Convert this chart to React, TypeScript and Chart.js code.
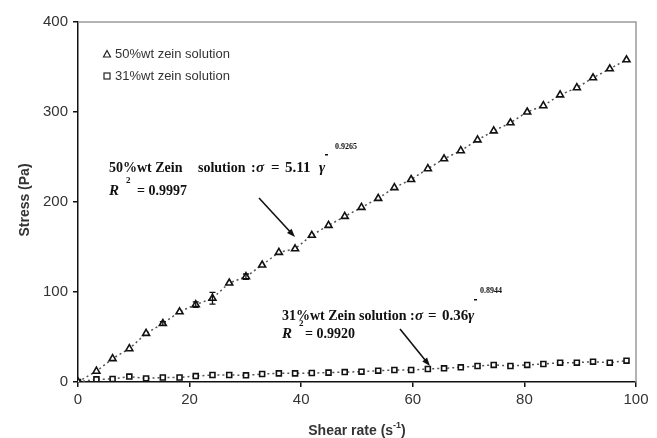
import React, { useEffect, useRef } from "react";
import { Chart, registerables } from "chart.js";

Chart.register(...registerables);

const shearRate = [0, 3.3, 6.2, 9.2, 12.2, 15.2, 18.2, 21.1, 24.1, 27.1, 30.1, 33.0, 36.0, 38.9, 41.9, 44.9, 47.8, 50.8, 53.8, 56.7, 59.7, 62.7, 65.6, 68.6, 71.6, 74.5, 77.5, 80.5, 83.4, 86.4, 89.4, 92.3, 95.3, 98.3];
const stress50 = [0, 12, 26, 37, 54, 65, 78, 86, 93, 110, 117, 130, 144, 148, 163, 174, 184, 194, 204, 216, 225, 237, 248, 257, 269, 279, 288, 300, 307, 319, 327, 338, 348, 358];
const error50 = [0, 0, 0, 0, 0, 2, 0, 3, 6.5, 0, 3, 0, 0, 0, 0, 0, 0, 0, 0, 0, 0, 0, 0, 0, 0, 0, 0, 0, 0, 0, 0, 0, 0, 0];
const stress31 = [0, 3, 3.3, 6, 4, 5, 5, 6.6, 7.8, 7.8, 7.4, 8.9, 9.6, 9.6, 10, 10.4, 11, 11.5, 12.6, 13.3, 13.3, 14.4, 15.2, 16.3, 17.8, 19, 17.8, 19, 20, 21.5, 21.5, 22.6, 21.5, 23.7];

const xTicksStep = 20;
const yTicksStep = 100;
const legendLabels = ["50%wt zein solution", "31%wt zein solution"];

const SANS = '"Liberation Sans", Arial, sans-serif';
const SERIF = '"Liberation Serif", "Times New Roman", serif';

function drawArrow(ctx: CanvasRenderingContext2D, x1: number, y1: number, x2: number, y2: number) {
  const ang = Math.atan2(y2 - y1, x2 - x1);
  const head = 9;
  ctx.save();
  ctx.strokeStyle = "#111";
  ctx.fillStyle = "#111";
  ctx.lineWidth = 1.6;
  ctx.beginPath();
  ctx.moveTo(x1, y1);
  ctx.lineTo(x2 - Math.cos(ang) * head * 0.8, y2 - Math.sin(ang) * head * 0.8);
  ctx.stroke();
  ctx.beginPath();
  ctx.moveTo(x2, y2);
  ctx.lineTo(x2 - head * Math.cos(ang - 0.35), y2 - head * Math.sin(ang - 0.35));
  ctx.lineTo(x2 - head * Math.cos(ang + 0.35), y2 - head * Math.sin(ang + 0.35));
  ctx.closePath();
  ctx.fill();
  ctx.restore();
}

const overlay = {
  id: "overlay",
  afterDatasetsDraw(chart: any) {
    const ctx: CanvasRenderingContext2D = chart.ctx;
    const xs = chart.scales.x;
    const ys = chart.scales.y;
    ctx.save();
    ctx.strokeStyle = "#111";
    ctx.lineWidth = 1.3;
    error50.forEach((e, i) => {
      if (!e) return;
      const px = xs.getPixelForValue(shearRate[i]);
      const top = ys.getPixelForValue(stress50[i] + e);
      const bot = ys.getPixelForValue(stress50[i] - e);
      ctx.beginPath();
      ctx.moveTo(px, top);
      ctx.lineTo(px, bot);
      ctx.moveTo(px - 3, top);
      ctx.lineTo(px + 3, top);
      ctx.moveTo(px - 3, bot);
      ctx.lineTo(px + 3, bot);
      ctx.stroke();
    });
    ctx.restore();
  },
  afterDraw(chart: any) {
    const ctx: CanvasRenderingContext2D = chart.ctx;
    const a = chart.chartArea;
    ctx.save();
    // frame top/right
    ctx.strokeStyle = "#9a9a9a";
    ctx.lineWidth = 1.5;
    ctx.beginPath();
    ctx.moveTo(a.left, a.top);
    ctx.lineTo(a.right, a.top);
    ctx.lineTo(a.right, a.bottom);
    ctx.stroke();

    // legend
    ctx.fillStyle = "#333";
    ctx.font = `13px ${SANS}`;
    ctx.textBaseline = "middle";
    ctx.fillText(legendLabels[0], 115, 54);
    ctx.fillText(legendLabels[1], 115, 76);
    ctx.strokeStyle = "#222";
    ctx.lineWidth = 1.2;
    ctx.fillStyle = "#fff";
    ctx.beginPath();
    ctx.moveTo(107, 50.5);
    ctx.lineTo(110.5, 57);
    ctx.lineTo(103.5, 57);
    ctx.closePath();
    ctx.fill();
    ctx.stroke();
    ctx.fillRect(104, 73, 6, 6);
    ctx.strokeRect(104, 73, 6, 6);

    // axis titles
    ctx.fillStyle = "#333";
    ctx.font = `bold 14px ${SANS}`;
    ctx.textAlign = "center";
    ctx.textBaseline = "middle";
    ctx.save();
    ctx.translate(25, 200);
    ctx.rotate(-Math.PI / 2);
    ctx.fillText("Stress (Pa)", 0, 0);
    ctx.restore();
    ctx.textAlign = "left";
    ctx.textBaseline = "alphabetic";
    const t1 = "Shear rate (s";
    const w1 = ctx.measureText(t1).width;
    ctx.font = `bold 9px ${SANS}`;
    const w2 = ctx.measureText("-1").width;
    ctx.font = `bold 14px ${SANS}`;
    const w3 = ctx.measureText(")").width;
    const total = w1 + w2 + w3;
    let sx = (a.left + a.right) / 2 - total / 2;
    const by = 435;
    ctx.fillText(t1, sx, by);
    ctx.font = `bold 9px ${SANS}`;
    ctx.fillText("-1", sx + w1, by - 7);
    ctx.font = `bold 14px ${SANS}`;
    ctx.fillText(")", sx + w1 + w2, by);

    // annotation 1
    ctx.fillStyle = "#111";
    const bold = `bold 14px ${SERIF}`;
    const boldIt = `italic bold 15px ${SERIF}`;
    ctx.font = bold;
    ctx.fillText("50%wt Zein", 109, 172);
    ctx.fillText("solution", 198, 172);
    ctx.fillText(":", 251, 172);
    ctx.font = boldIt;
    ctx.fillText("\u03c3", 256, 172);
    ctx.font = `bold 15px ${SERIF}`;
    ctx.fillText("=", 271, 172);
    ctx.fillText("5.11", 285, 172);
    ctx.font = boldIt;
    ctx.fillText("\u03b3", 319, 172);
    ctx.fillRect(325, 154, 3, 1.5);
    ctx.font = `bold 8px ${SERIF}`;
    ctx.fillText("0.9265", 335, 149);
    ctx.font = boldIt;
    ctx.fillText("R", 109, 195);
    ctx.font = `bold 9px ${SERIF}`;
    ctx.fillText("2", 126, 183);
    ctx.font = bold;
    ctx.fillText("= 0.9997", 137, 195);
    drawArrow(ctx, 259, 198, 295, 237);

    // annotation 2
    ctx.font = bold;
    ctx.fillText("31%wt Zein solution", 282, 320);
    ctx.fillText(":", 410, 320);
    ctx.font = boldIt;
    ctx.fillText("\u03c3", 415, 320);
    ctx.font = `bold 15px ${SERIF}`;
    ctx.fillText("=", 428, 320);
    ctx.fillText("0.36", 442, 320);
    ctx.font = boldIt;
    ctx.fillText("\u03b3", 468, 320);
    ctx.fillRect(474, 299, 3, 1.5);
    ctx.font = `bold 8px ${SERIF}`;
    ctx.fillText("0.8944", 480, 293);
    ctx.font = boldIt;
    ctx.fillText("R", 282, 338);
    ctx.font = `bold 9px ${SERIF}`;
    ctx.fillText("2", 299, 326);
    ctx.font = bold;
    ctx.fillText("= 0.9920", 305, 338);
    drawArrow(ctx, 400, 329, 430, 366);

    ctx.restore();
  },
};

export default function App() {
  const ref = useRef<HTMLCanvasElement | null>(null);
  useEffect(() => {
    document.body.style.margin = "0";
    const canvas = ref.current;
    if (!canvas) return;
    const tickFont = { family: SANS, size: 15 };
    const chart = new Chart(canvas, {
      type: "scatter",
      data: {
        datasets: [
          {
            label: legendLabels[0],
            data: shearRate.map((x, i) => ({ x, y: stress50[i] })),
            showLine: true,
            borderColor: "#555",
            borderDash: [2, 3],
            borderWidth: 1.5,
            tension: 0,
            pointStyle: "triangle",
            pointRadius: 4,
            pointBorderColor: "#111",
            pointBackgroundColor: "#fff",
            pointBorderWidth: 1.6,
          },
          {
            label: legendLabels[1],
            data: shearRate.map((x, i) => ({ x, y: stress31[i] })),
            showLine: true,
            borderColor: "#555",
            borderDash: [2, 3],
            borderWidth: 1.5,
            tension: 0,
            pointStyle: "rect",
            pointRadius: 3.5,
            pointBorderColor: "#111",
            pointBackgroundColor: "#fff",
            pointBorderWidth: 1.6,
          },
        ],
      },
      options: {
        responsive: false,
        animation: false,
        layout: { padding: { top: 22, right: 21, left: 0, bottom: 0 } },
        plugins: { legend: { display: false }, tooltip: { enabled: false } },
        scales: {
          x: {
            type: "linear",
            min: 0,
            max: 100,
            ticks: { stepSize: xTicksStep, font: tickFont, color: "#333", padding: 4 },
            grid: { drawOnChartArea: false, drawTicks: true, tickLength: 5, color: "#111", lineWidth: 1.5 },
            border: { display: true, color: "#111", width: 1.5 },
            afterFit: (s: any) => {
              s.height = 56;
            },
          },
          y: {
            min: 0,
            max: 400,
            ticks: { stepSize: yTicksStep, font: tickFont, color: "#333", padding: 5 },
            grid: { drawOnChartArea: false, drawTicks: true, tickLength: 5, color: "#111", lineWidth: 1.5 },
            border: { display: true, color: "#111", width: 1.5 },
            afterFit: (s: any) => {
              s.width = 78;
            },
          },
        },
      } as any,
      plugins: [overlay],
    });
    return () => chart.destroy();
  }, []);
  return (
    <div style={{ position: "absolute", left: 0, top: 0, width: 657, height: 438, background: "#fff" }}>
      <canvas ref={ref} width={657} height={438} />
    </div>
  );
}
